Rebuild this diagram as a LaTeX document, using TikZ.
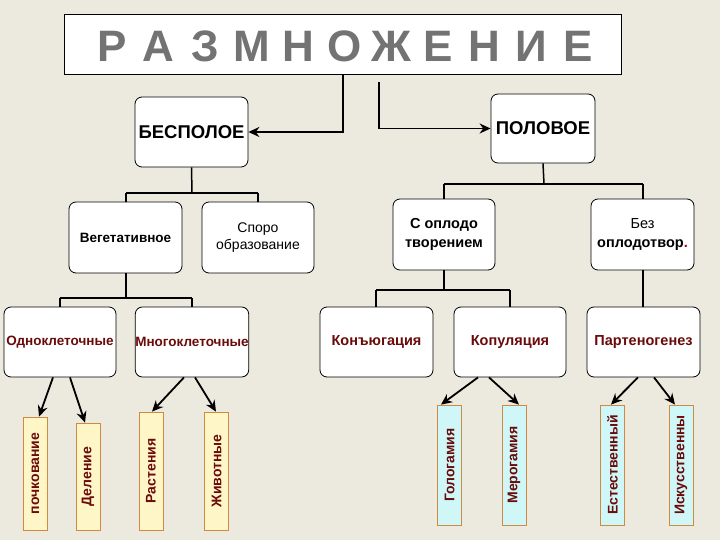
\documentclass[tikz,border=0pt]{standalone}
\usepackage{fontspec}
\setmainfont{Liberation Sans}
\usetikzlibrary{arrows.meta}
\definecolor{bg}{HTML}{ECE9DE}
\definecolor{dred}{HTML}{6A0A0A}
\definecolor{ylw}{HTML}{FFF6C8}
\definecolor{cyn}{HTML}{CFF7F7}
\definecolor{obrd}{HTML}{D08A40}
\begin{document}
\begin{tikzpicture}[x=1pt,y=-1pt,
  box/.style={draw=black,fill=white,rounded corners=7pt,line width=0.8pt,inner sep=0pt,align=center,font=\bfseries\fontsize{13.5}{18}\selectfont},
  lvl/.style={box,text=dred},
  vb/.style={draw=obrd,line width=0.8pt,inner sep=0pt,minimum width=24pt,text=dred,font=\bfseries\fontsize{14}{15}\selectfont},
  ln/.style={line width=1.5pt},
  ar/.style={line width=1.8pt,-{Stealth[length=11pt,width=10pt]}},
  title/.style={font=\bfseries\fontsize{44}{46}\selectfont,text=black!55}]
\fill[bg] (0,0) rectangle (720,540);
\useasboundingbox (0,0) rectangle (720,540);
% title
\node[draw=black,fill=white,line width=0.8pt,minimum width=557pt,minimum height=60pt,inner sep=0pt] (T) at (342.5,44) {};
\foreach \l [count=\i] in {Р,А,З,М,Н,О,Ж,Е,Н,И,Е}
  \node[title] (t\i) at ({112+46.6*(\i-1)},46) {\l};
% level 1
\node[box,minimum width=113pt,minimum height=70pt,font=\bfseries\fontsize{18.5}{20}\selectfont] (B) at (191.5,132) {БЕСПОЛОЕ};
\node[box,minimum width=104pt,minimum height=69pt,font=\bfseries\fontsize{18.5}{20}\selectfont] (P) at (543,128.5) {ПОЛОВОЕ};
\coordinate (s2) at (379,82);
\draw[ar] (T.south -| 343,0) |- (B.east);
\draw[ar] (s2) |- (P.west);
% level 2
\node[box,minimum width=113pt,minimum height=71pt] (V) at (125.5,237.5) {Вегетативное};
\node[box,minimum width=112pt,minimum height=71pt,font=\fontsize{14}{17}\selectfont] (S) at (258,237.5) {Споро\\образование};
\node[box,minimum width=102pt,minimum height=71pt,font=\bfseries\fontsize{14.5}{19}\selectfont] (C) at (444,234.5) {С оплодо\\творением};
\node[box,minimum width=103pt,minimum height=71pt,font=\fontsize{14.5}{19}\selectfont] (N) at (642.5,234.5) {Без\\\textbf{оплодотвор\textcolor{red!70!black}{.}}};
\draw[ln] (B.south) -- (192,193) coordinate (j1);
\draw[ln] (126,193) -- (258,193);
\draw[ln] (126,193) -- (V.north -| 126,0);
\draw[ln] (258,193) -- (S.north -| 258,0);
\draw[ln] (P.south) -- (544,184);
\draw[ln] (444,184) -- (643,184);
\draw[ln] (444,184) -- (C.north);
\draw[ln] (643,184) -- (N.north -| 643,0);
% level 3
\node[lvl,minimum width=112pt,minimum height=70pt] (O) at (60,342) {Одноклеточные};
\node[lvl,minimum width=112pt,minimum height=70pt] (M) at (192,342) {Многоклеточные};
\node[lvl,minimum width=113pt,minimum height=70pt,font=\bfseries\fontsize{14.5}{16}\selectfont] (K) at (376.5,342) {Конъюгация};
\node[lvl,minimum width=112pt,minimum height=70pt,font=\bfseries\fontsize{14.5}{16}\selectfont] (Ko) at (510,342) {Копуляция};
\node[lvl,minimum width=113pt,minimum height=70pt,font=\bfseries\fontsize{14.5}{16}\selectfont] (Pa) at (643.5,342) {Партеногенез};
\draw[ln] (126,273) -- (126,298);
\draw[ln] (60,298) -- (192,298);
\draw[ln] (60,298) -- (O.north);
\draw[ln] (192,298) -- (M.north);
\draw[ln] (444,270) -- (444,290);
\draw[ln] (376,290) -- (510,290);
\draw[ln] (376,290) -- (K.north -| 376,0);
\draw[ln] (510,290) -- (Ko.north);
\draw[ln] (643,270) -- (Pa.north -| 643,0);
% level 4
\node[vb,fill=ylw,minimum height=113pt] (v1) at (35.5,473.5) {\rotatebox{90}{почкование}};
\node[vb,fill=ylw,minimum height=107pt] (v2) at (88,476.5) {\rotatebox{90}{Деление}};
\node[vb,fill=ylw,minimum height=118pt] (v3) at (151,471) {\rotatebox{90}{Растения}};
\node[vb,fill=ylw,minimum height=118pt] (v4) at (216.5,471) {\rotatebox{90}{Животные}};
\node[vb,fill=cyn,minimum height=120pt] (v5) at (449.5,465) {\rotatebox{90}{Гологамия}};
\node[vb,fill=cyn,minimum height=120pt] (v6) at (514,465) {\rotatebox{90}{Мерогамия}};
\node[vb,fill=cyn,minimum height=120pt] (v7) at (612.5,465) {\rotatebox{90}{Естественный}};
\node[vb,fill=cyn,minimum height=120pt] (v8) at (681,465) {\rotatebox{90}{Искусственны}};
\draw[ar] (O.south -| 53,0) -- (v1.north -| 39,0);
\draw[ar] (O.south -| 70,0) -- (v2.north -| 85,0);
\draw[ar] (M.south -| 184,0) -- (v3.north -| 152,0);
\draw[ar] (M.south -| 195,0) -- (v4.north -| 216,0);
\draw[ar] (Ko.south -| 478,0) -- (v5.north -| 441,0);
\draw[ar] (Ko.south -| 489,0) -- (v6.north -| 519,0);
\draw[ar] (Pa.south -| 638,0) -- (v7.north -| 611,0);
\draw[ar] (Pa.south -| 654,0) -- (v8.north -| 675,0);
\end{tikzpicture}
\end{document}
